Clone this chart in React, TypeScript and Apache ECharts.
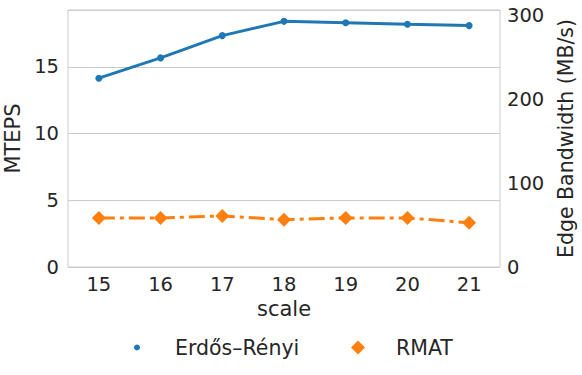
import React, { useEffect, useRef } from "react";
import * as echarts from "echarts";

const categories = ["15", "16", "17", "18", "19", "20", "21"];
const erdosRenyi = [14.15, 15.67, 17.34, 18.41, 18.31, 18.19, 18.09];
const rmat = [3.68, 3.68, 3.83, 3.55, 3.68, 3.68, 3.31];
const leftTitle = "MTEPS";
const rightTitle = "Edge Bandwidth (MB/s)";
const xTitle = "scale";

const FONT = "DejaVu Sans";
const TXT = "#262626";
const TICK = 19.5;
const NAME = 21;
const LEG = 20.5;

export default function App() {
  const ref = useRef<HTMLDivElement>(null);
  useEffect(() => {
    if (!ref.current) return;
    const chart = echarts.init(ref.current, undefined, { renderer: "svg" });
    chart.setOption({
      animation: false,
      textStyle: { fontFamily: FONT, color: TXT },
      grid: {
        left: 68,
        right: 82,
        top: 10,
        bottom: 108,
        show: true,
        borderColor: "#cccccc",
        borderWidth: 1,
        containLabel: false,
        outerBoundsMode: "none",
      },
      legend: [
        {
          data: [{ name: "Erdős–Rényi", icon: "circle" }],
          left: 134,
          top: 337,
          padding: 0,
          itemWidth: 6,
          itemHeight: 6,
          textStyle: { fontFamily: FONT, fontSize: LEG, color: TXT, padding: [0, 0, 0, 30] },
        },
        {
          data: [{ name: "RMAT", icon: "diamond" }],
          left: 351,
          top: 337,
          padding: 0,
          itemWidth: 14,
          itemHeight: 14,
          textStyle: { fontFamily: FONT, fontSize: LEG, color: TXT, padding: [0, 0, 0, 26] },
        },
      ],
      xAxis: {
        type: "category",
        data: categories,
        boundaryGap: true,
        name: xTitle,
        nameLocation: "middle",
        nameGap: 30,
        nameTextStyle: { fontFamily: FONT, fontSize: NAME, color: TXT },
        axisLine: { show: false },
        axisTick: { show: false },
        axisLabel: { fontFamily: FONT, fontSize: TICK, color: TXT, margin: 7 },
        splitLine: { show: false },
      },
      yAxis: [
        {
          type: "value",
          min: 0,
          max: 19.26,
          interval: 5,
          name: leftTitle,
          nameLocation: "middle",
          nameGap: 37,
          nameTextStyle: { fontFamily: FONT, fontSize: NAME, color: TXT },
          axisLine: { show: false },
          axisTick: { show: false },
          axisLabel: { fontFamily: FONT, fontSize: TICK, color: TXT, margin: 9, showMaxLabel: false },
          splitLine: { show: true, lineStyle: { color: "#cccccc", width: 1 } },
        },
        {
          type: "value",
          min: 0,
          max: 306.5,
          interval: 100,
          position: "right",
          name: rightTitle,
          nameLocation: "middle",
          nameGap: 51,
          nameTextStyle: { fontFamily: FONT, fontSize: 20.5, color: TXT },
          axisLine: { show: false },
          axisTick: { show: false },
          axisLabel: { fontFamily: FONT, fontSize: TICK, color: TXT, margin: 7, showMaxLabel: false },
          splitLine: { show: false },
        },
      ],
      series: [
        {
          name: "Erdős–Rényi",
          type: "line",
          data: erdosRenyi,
          yAxisIndex: 0,
          symbol: "circle",
          symbolSize: 7,
          color: "#1f77b4",
          lineStyle: { color: "#1f77b4", width: 3 },
          itemStyle: { color: "#1f77b4" },
        },
        {
          name: "RMAT",
          type: "line",
          data: rmat,
          yAxisIndex: 0,
          symbol: "diamond",
          symbolSize: 14,
          color: "#ff7f0e",
          lineStyle: { color: "#ff7f0e", width: 3, type: [16, 5, 4, 5] },
          itemStyle: { color: "#ff7f0e" },
        },
      ],
    });
    return () => chart.dispose();
  }, []);
  return (
    <div
      ref={ref}
      style={{ width: 582, height: 375, position: "absolute", left: 0, top: 0 }}
    />
  );
}
